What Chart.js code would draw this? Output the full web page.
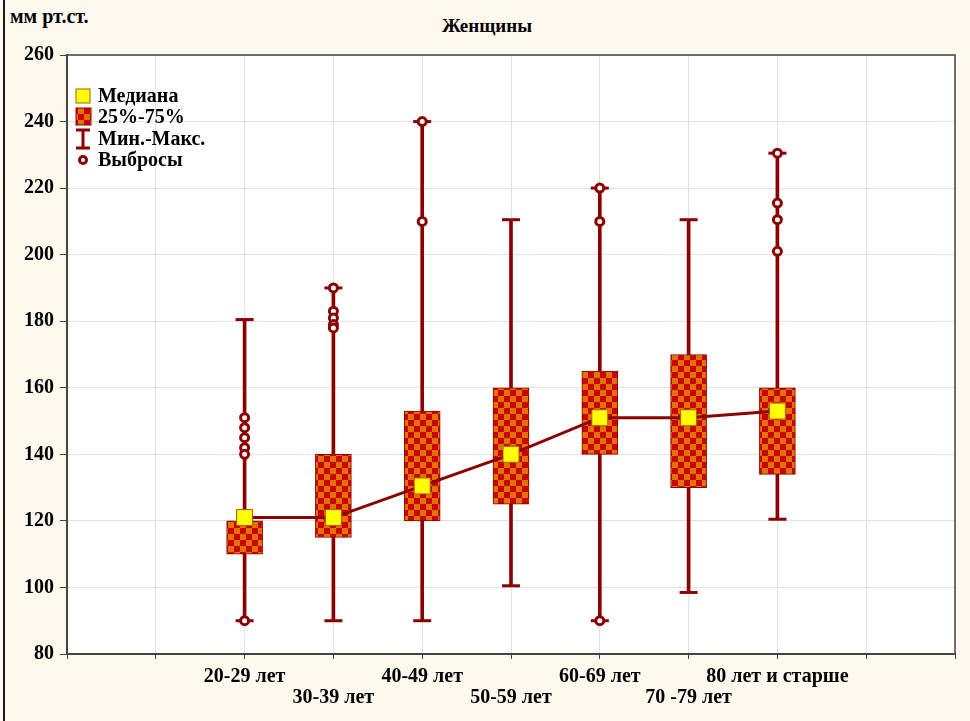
<!DOCTYPE html>
<html lang="ru">
<head>
<meta charset="UTF-8">
<title>Женщины</title>
<script src="https://cdn.jsdelivr.net/npm/chart.js@4.4.0/dist/chart.umd.min.js"></script>
<style>
  * { box-sizing: border-box; margin: 0; padding: 0; }
  html, body { width: 970px; height: 721px; overflow: hidden; background: #fef9ee; }
  .wrap  { position: relative; width: 970px; height: 721px; }
  .edge  { position: absolute; left: 3px; top: 0; width: 2px; height: 721px; background: #1a1a1a; }
  .units { position: absolute; left: 10px; top: 5px; font: bold 20px 'Liberation Serif', serif; color: #000; }
  .title { position: absolute; left: 0; width: 970px; top: 15px; text-align: center;
           font: bold 19px 'Liberation Serif', serif; color: #000; padding-left: 4px; }
  canvas { position: absolute; left: 0; top: 0; }
</style>
</head>
<body>
<div class="wrap">
  <div class="edge"></div>
  <div class="units">мм рт.ст.</div>
  <div class="title">Женщины</div>
  <canvas id="chart" width="970" height="721"></canvas>
</div>

<script>
// ── data ─────────────────────────────────────────────
const categories = ['20-29 лет', '30-39 лет', '40-49 лет', '50-59 лет', '60-69 лет', '70 -79 лет', '80 лет и старше']
const xPos     = [2, 3, 4, 5, 6, 7, 8]
const minVals  = [90, 90, 90, 100.5, 90, 98.5, 120.5]
const maxVals  = [180.5, 190, 240, 210.5, 220, 210.5, 230.5]
const q1Vals   = [110, 115, 120, 125, 140, 130, 134]
const q3Vals   = [120, 140, 153, 160, 165, 170, 160]
const medians  = [121, 121, 130.5, 140, 151, 151, 153]
const outliers = [
  [151, 148, 145, 142, 140, 90],
  [190, 183, 181, 179, 178],
  [240, 210],
  [],
  [220, 210, 90],
  [],
  [230.5, 215.5, 210.5, 201],
]
const legendLabels = ['Медиана', '25%-75%', 'Мин.-Макс.', 'Выбросы']
const yTicks = { min: 80, max: 260, step: 20 }

// ── styles ───────────────────────────────────────────
const DARK   = '#8b0000'
const YELLOW = '#ffff00'
const FONT   = "'Liberation Serif', 'Times New Roman', serif"

function checker() {
  const c = document.createElement('canvas')
  const s = 6
  c.width = c.height = s * 2
  const g = c.getContext('2d')
  g.fillStyle = '#e07400'; g.fillRect(0, 0, s * 2, s * 2)
  g.fillStyle = '#cc0000'; g.fillRect(0, 0, s, s); g.fillRect(s, s, s, s)
  return g.createPattern(c, 'repeat')
}
const PATTERN = checker()

const whiskerData = xPos.map((x, i) => ({ x, y: [minVals[i], maxVals[i]] }))
const boxData     = xPos.map((x, i) => ({ x, y: [q1Vals[i], q3Vals[i]] }))
const capData     = xPos.flatMap((x, i) => [{ x, y: minVals[i] }, { x, y: maxVals[i] }])
const medianData  = xPos.map((x, i) => ({ x, y: medians[i] }))
const outlierData = xPos.flatMap((x, i) => outliers[i].map(y => ({ x, y })))

// white plot area + border round it
const frame = {
  id: 'frame',
  beforeDraw(chart) {
    const { ctx, chartArea: a } = chart
    ctx.save()
    ctx.fillStyle = '#fff'
    ctx.fillRect(a.left, a.top, a.right - a.left, a.bottom - a.top)
    ctx.restore()
  },
  afterDatasetsDraw(chart) {
    const { ctx, chartArea: a } = chart
    ctx.save()
    ctx.strokeStyle = '#444'
    ctx.lineWidth = 1.5
    ctx.strokeRect(a.left, a.top, a.right - a.left, a.bottom - a.top)
    ctx.restore()
  }
}

// legend in the upper left of the plot
const boxLegend = {
  id: 'boxLegend',
  afterDraw(chart) {
    const { ctx, chartArea: a } = chart
    const cx = a.left + 16
    const tx = a.left + 31
    const ys = [41, 62, 84, 105].map(d => a.top + d)
    ctx.save()
    // median
    ctx.fillStyle = YELLOW; ctx.strokeStyle = '#b05a00'; ctx.lineWidth = 1
    ctx.fillRect(cx - 7, ys[0] - 7, 14, 14); ctx.strokeRect(cx - 7, ys[0] - 7, 14, 14)
    // box
    ctx.fillStyle = PATTERN; ctx.strokeStyle = DARK
    ctx.fillRect(cx - 7, ys[1] - 9, 15, 17); ctx.strokeRect(cx - 7, ys[1] - 9, 15, 17)
    // min-max
    ctx.strokeStyle = DARK; ctx.lineWidth = 3
    ctx.beginPath()
    ctx.moveTo(cx, ys[2] - 9); ctx.lineTo(cx, ys[2] + 9)
    ctx.moveTo(cx - 7, ys[2] - 9); ctx.lineTo(cx + 7, ys[2] - 9)
    ctx.moveTo(cx - 7, ys[2] + 9); ctx.lineTo(cx + 7, ys[2] + 9)
    ctx.stroke()
    // outliers
    ctx.lineWidth = 3; ctx.fillStyle = '#fff'
    ctx.beginPath(); ctx.arc(cx, ys[3], 3.5, 0, Math.PI * 2); ctx.fill(); ctx.stroke()
    // labels
    ctx.fillStyle = '#000'
    ctx.font = `bold 20px ${FONT}`
    ctx.textBaseline = 'middle'
    legendLabels.forEach((t, i) => ctx.fillText(t, tx, ys[i] + 1))
    ctx.restore()
  }
}

new Chart(document.getElementById('chart'), {
  type: 'bar',
  data: {
    datasets: [
      { type: 'line', label: 'Выбросы', data: outlierData, showLine: false, order: 0,
        pointStyle: 'circle', pointRadius: 4, pointBorderWidth: 3,
        pointBackgroundColor: '#fff', pointBorderColor: DARK },
      { type: 'line', label: 'Медиана', data: medianData, order: 1,
        borderColor: DARK, borderWidth: 3, tension: 0,
        pointStyle: 'rect', pointRadius: 11.3, pointBorderWidth: 1,
        pointBackgroundColor: YELLOW, pointBorderColor: '#b05a00' },
      { type: 'line', label: 'caps', data: capData, showLine: false, order: 3,
        pointStyle: 'line', pointRadius: 9, pointBorderWidth: 3, pointBorderColor: DARK },
      { label: '25%-75%', data: boxData, order: 4, grouped: false,
        backgroundColor: PATTERN, borderColor: DARK, borderWidth: 1, borderSkipped: false,
        barThickness: 36 },
      { label: 'Мин.-Макс.', data: whiskerData, order: 5, grouped: false,
        backgroundColor: DARK, borderWidth: 0, barThickness: 3 },
    ]
  },
  options: {
    responsive: false,
    animation: false,
    layout: { padding: { top: 55, right: 15, left: 0, bottom: 0 } },
    plugins: { legend: { display: false }, title: { display: false }, tooltip: { enabled: false } },
    scales: {
      x: {
        type: 'linear', min: 0, max: 10, offset: false,
        afterFit: s => { s.height = 67 },
        ticks: {
          stepSize: 1, autoSkip: false, maxRotation: 0, padding: 7, color: '#000',
          font: { family: FONT, size: 20, weight: 'bold', lineHeight: 1.05 },
          callback: v => {
            const i = xPos.indexOf(v)
            if (i < 0) return ''
            return i % 2 ? ['', categories[i]] : categories[i]
          }
        },
        grid: { offset: false, color: '#e2e2e2', tickColor: '#444', tickLength: 5 },
        border: { color: '#444', width: 2 }
      },
      y: {
        min: yTicks.min, max: yTicks.max,
        afterFit: s => { s.width = 67 },
        ticks: { stepSize: yTicks.step, padding: 6, color: '#000',
                 font: { family: FONT, size: 20, weight: 'bold' } },
        grid: { color: '#e2e2e2', tickColor: '#444', tickLength: 7 },
        border: { color: '#444', width: 2 }
      }
    }
  },
  plugins: [frame, boxLegend]
})
</script>
</body>
</html>
